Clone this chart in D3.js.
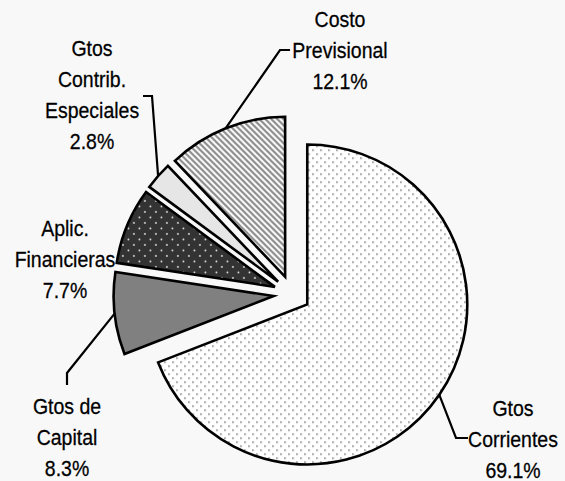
<!DOCTYPE html>
<html><head><meta charset="utf-8">
<script src="https://cdn.jsdelivr.net/npm/d3@7"></script>
<style>html,body{margin:0;padding:0;background:#f8f8f8;}svg{display:block;}</style>
</head><body>
<script>
const categories = ["Gtos Corrientes", "Gtos de Capital", "Aplic. Financieras", "Gtos Contrib. Especiales", "Costo Previsional"];
const labelLines = [["Gtos","Corrientes"],["Gtos de","Capital"],["Aplic.","Financieras"],["Gtos","Contrib.","Especiales"],["Costo","Previsional"]];
const values = [69.1, 8.3, 7.7, 2.8, 12.1];
const pctLabels = ["69.1%", "8.3%", "7.7%", "2.8%", "12.1%"];

const W = 565, H = 481;
const cx = 292, cy = 294, R = 160, explode = 18.5;
// label layout: center x, first line center y, leader elbow points
const layout = [
  {x:513, y:408, elbow:[[468,438],[456,438]]},
  {x:67, y:406, elbow:[[67,385],[67,373]]},
  {x:65, y:228, elbow:null},
  {x:92, y:48, elbow:[[143,96],[152,96]]},
  {x:340, y:19, elbow:[[290,50],[280,50]]}
];
const lineH = 31;

const svg = d3.select("body").append("svg").attr("width", W).attr("height", H);
svg.append("rect").attr("width", W).attr("height", H).attr("fill", "#f8f8f8");

const defs = svg.append("defs");
// fine dots on white
let p = defs.append("pattern").attr("id","pDots").attr("patternUnits","userSpaceOnUse").attr("width",8).attr("height",8);
p.append("rect").attr("width",8).attr("height",8).attr("fill","#ffffff");
p.append("rect").attr("x",1).attr("y",1).attr("width",1.4).attr("height",1.4).attr("fill","#555");
p.append("rect").attr("x",5).attr("y",5).attr("width",1.4).attr("height",1.4).attr("fill","#555");
// white dots on dark
p = defs.append("pattern").attr("id","pDark").attr("patternUnits","userSpaceOnUse").attr("width",11).attr("height",11);
p.append("rect").attr("width",11).attr("height",11).attr("fill","#333333");
p.append("circle").attr("cx",2).attr("cy",2).attr("r",0.9).attr("fill","#e8e8e8");
p.append("circle").attr("cx",7.5).attr("cy",7.5).attr("r",0.9).attr("fill","#e8e8e8");
// diagonal stripes "\"
p = defs.append("pattern").attr("id","pStripe").attr("patternUnits","userSpaceOnUse").attr("width",6).attr("height",6);
p.append("rect").attr("width",6).attr("height",6).attr("fill","#ffffff");
p.append("path").attr("d","M-1,-1 L7,7 M-7,-1 L1,7 M5,-1 L13,7").attr("stroke","#8a8a8a").attr("stroke-width",2.2);

const fills = ["url(#pDots)", "#808080", "url(#pDark)", "#e6e6e6", "url(#pStripe)"];

const pie = d3.pie().sort(null).value(d => d).startAngle(0).endAngle(2*Math.PI);
const arcs = pie(values);
const arc = d3.arc().innerRadius(0).outerRadius(R);

function offset(a){
  const m = (a.startAngle + a.endAngle)/2;
  return [cx + explode*Math.sin(m), cy - explode*Math.cos(m)];
}

svg.selectAll("path.slice").data(arcs).join("path")
  .attr("class","slice")
  .attr("transform", d => `translate(${offset(d)})`)
  .attr("d", arc)
  .attr("fill", (d,i) => fills[i])
  .attr("stroke", "#000").attr("stroke-width", 2.6).attr("stroke-linejoin","miter");

// leader lines
arcs.forEach((d,i) => {
  const L = layout[i];
  if (!L.elbow) return;
  const o = offset(d);
  const m = (d.startAngle + d.endAngle)/2;
  const tip = [o[0] + R*Math.sin(m), o[1] - R*Math.cos(m)];
  const pts = [...L.elbow, tip];
  svg.append("path").attr("d", d3.line()(pts)).attr("fill","none").attr("stroke","#000").attr("stroke-width",2.2);
});

// labels
arcs.forEach((d,i) => {
  const L = layout[i];
  const lines = [...labelLines[i], pctLabels[i]];
  lines.forEach((t,k) => {
    svg.append("text")
      .attr("transform", `translate(${L.x},${L.y + k*lineH}) scale(1,1.12)`)
      .attr("text-anchor","middle").attr("dominant-baseline","central")
      .attr("font-family","'Liberation Sans', Arial, sans-serif").attr("font-size",19.5)
      .attr("fill","#000").attr("stroke","#000").attr("stroke-width",0.25).text(t);
  });
});
</script>
</body></html>
